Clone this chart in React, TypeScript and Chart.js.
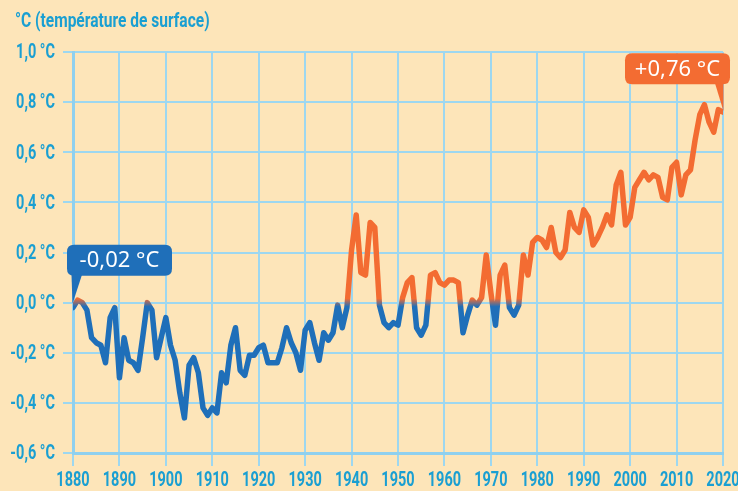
import { useEffect, useRef } from "react";
import { Chart, registerables } from "chart.js";

Chart.register(...registerables);

const START_YEAR = 1880;
const temps1880s = [-0.02, 0.01, 0.0, -0.03, -0.14, -0.16, -0.17, -0.24, -0.06, -0.02];
const temps1890s = [-0.3, -0.14, -0.23, -0.24, -0.27, -0.14, 0.0, -0.03, -0.22, -0.14];
const temps1900s = [-0.06, -0.17, -0.23, -0.36, -0.46, -0.25, -0.22, -0.28, -0.42, -0.45];
const temps1910s = [-0.42, -0.44, -0.28, -0.32, -0.17, -0.1, -0.27, -0.29, -0.21, -0.21];
const temps1920s = [-0.18, -0.17, -0.24, -0.24, -0.24, -0.18, -0.1, -0.16, -0.2, -0.27];
const temps1930s = [-0.11, -0.08, -0.16, -0.23, -0.12, -0.15, -0.12, -0.01, -0.1, -0.02];
const temps1940s = [0.21, 0.35, 0.12, 0.11, 0.32, 0.3, -0.01, -0.08, -0.1, -0.08];
const temps1950s = [-0.09, 0.02, 0.08, 0.1, -0.1, -0.13, -0.09, 0.11, 0.12, 0.08];
const temps1960s = [0.07, 0.09, 0.09, 0.08, -0.12, -0.05, 0.01, -0.01, 0.02, 0.19];
const temps1970s = [0.04, -0.09, 0.11, 0.15, -0.02, -0.05, -0.01, 0.19, 0.11, 0.24];
const temps1980s = [0.26, 0.25, 0.22, 0.3, 0.2, 0.18, 0.21, 0.36, 0.3, 0.28];
const temps1990s = [0.37, 0.34, 0.23, 0.26, 0.3, 0.35, 0.31, 0.47, 0.52, 0.31];
const temps2000s = [0.34, 0.46, 0.49, 0.52, 0.49, 0.51, 0.5, 0.42, 0.41, 0.54];
const temps2010s = [0.56, 0.43, 0.51, 0.53, 0.65, 0.75, 0.79, 0.72, 0.68, 0.77];
const temps2020s = [0.76];

const anomalies = [
  ...temps1880s, ...temps1890s, ...temps1900s, ...temps1910s, ...temps1920s,
  ...temps1930s, ...temps1940s, ...temps1950s, ...temps1960s, ...temps1970s,
  ...temps1980s, ...temps1990s, ...temps2000s, ...temps2010s, ...temps2020s,
];
const years = anomalies.map((_, i) => START_YEAR + i);

const xTickYears = [1880, 1890, 1900, 1910, 1920, 1930, 1940, 1950, 1960, 1970, 1980, 1990, 2000, 2010, 2020];
const yTickValues = [-0.6, -0.4, -0.2, 0, 0.2, 0.4, 0.6, 0.8, 1.0];
const yTickLabels = ["-0,6 °C", "-0,4 °C", "-0,2 °C", "0,0 °C", "0,2 °C", "0,4 °C", "0,6 °C", "0,8 °C", "1,0 °C"];
const axisTitle = "°C (température de surface)";
const startLabel = "-0,02 °C";
const endLabel = "+0,76 °C";

const BG = "#fde5b9";
const BLUE = "#1f6fb9";
const ORANGE = "#f36c32";
const TEXT = "#1a9fd2";
const GRID = "#9dd7f0";
const AXIS = "#8fd0ef";
const LABEL_FONT = "bold 21px Roboto, 'DejaVu Sans', sans-serif";
const SQUEEZE = 0.69;

function roundRect(ctx: CanvasRenderingContext2D, x: number, y: number, w: number, h: number, r: number) {
  ctx.beginPath();
  ctx.moveTo(x + r, y);
  ctx.lineTo(x + w - r, y);
  ctx.quadraticCurveTo(x + w, y, x + w, y + r);
  ctx.lineTo(x + w, y + h - r);
  ctx.quadraticCurveTo(x + w, y + h, x + w - r, y + h);
  ctx.lineTo(x + r, y + h);
  ctx.quadraticCurveTo(x, y + h, x, y + h - r);
  ctx.lineTo(x, y + r);
  ctx.quadraticCurveTo(x, y, x + r, y);
  ctx.closePath();
}

function condensedText(ctx: CanvasRenderingContext2D, text: string, x: number, y: number, align: CanvasTextAlign) {
  ctx.save();
  ctx.translate(x, y);
  ctx.scale(SQUEEZE, 1);
  ctx.textAlign = align;
  ctx.fillText(text, 0, 0);
  ctx.restore();
}

const decorPlugin = {
  id: "decor",
  beforeDraw(chart: any) {
    const ctx = chart.ctx as CanvasRenderingContext2D;
    ctx.save();
    ctx.fillStyle = BG;
    ctx.fillRect(0, 0, chart.width, chart.height);
    ctx.fillStyle = TEXT;
    ctx.font = "bold 21px Roboto, 'DejaVu Sans', sans-serif";
    ctx.textBaseline = "alphabetic";
    ctx.save();
    ctx.translate(15, 27);
    ctx.scale(0.74, 1);
    ctx.textAlign = "left";
    ctx.fillText(axisTitle, 0, 0);
    ctx.restore();

    const xs = chart.scales.x;
    const ys = chart.scales.y;
    ctx.font = LABEL_FONT;
    ctx.textBaseline = "middle";
    yTickValues.forEach((v, i) => {
      condensedText(ctx, yTickLabels[i], 55, ys.getPixelForValue(v) + 1, "right");
    });
    xTickYears.forEach((yr) => {
      condensedText(ctx, String(yr), xs.getPixelForValue(yr), 481, "center");
    });
    ctx.restore();
  },
  afterDatasetsDraw(chart: any) {
    const ctx = chart.ctx as CanvasRenderingContext2D;
    const xs = chart.scales.x;
    const ys = chart.scales.y;
    const n = anomalies.length;
    const p0 = { x: xs.getPixelForValue(years[0]), y: ys.getPixelForValue(anomalies[0]) };
    const p1 = { x: xs.getPixelForValue(years[n - 1]), y: ys.getPixelForValue(anomalies[n - 1]) };
    ctx.save();
    ctx.font = `22px 'Noto Sans', 'DejaVu Sans', sans-serif`;
    ctx.textAlign = "center";
    ctx.textBaseline = "middle";

    const bw = 105, bh = 31;
    const bx = p0.x - 6, by = p0.y - 63;
    ctx.fillStyle = BLUE;
    roundRect(ctx, bx, by, bw, bh, 7);
    ctx.fill();
    ctx.beginPath();
    ctx.moveTo(p0.x - 1.5, by + bh - 1);
    ctx.lineTo(p0.x + 9, by + bh - 1);
    ctx.lineTo(p0.x - 0.5, p0.y - 4);
    ctx.closePath();
    ctx.fill();
    ctx.fillStyle = "#ffffff";
    ctx.fillText(startLabel, bx + bw / 2, by + bh / 2 + 1);

    const ox = p1.x + 7 - bw, oy = p1.y - 59;
    ctx.fillStyle = ORANGE;
    roundRect(ctx, ox, oy, bw, bh, 7);
    ctx.fill();
    ctx.beginPath();
    ctx.moveTo(p1.x - 8, oy + bh - 1);
    ctx.lineTo(p1.x + 0.5, oy + bh - 1);
    ctx.lineTo(p1.x + 0.5, p1.y - 1);
    ctx.closePath();
    ctx.fill();
    ctx.fillStyle = "#ffffff";
    ctx.fillText(endLabel, ox + bw / 2, oy + bh / 2 + 1);
    ctx.restore();
  },
};

export default function App() {
  const canvasRef = useRef<HTMLCanvasElement | null>(null);

  useEffect(() => {
    document.body.style.margin = "0";
    const canvas = canvasRef.current;
    if (!canvas) return;
    const chart = new Chart(canvas, {
      type: "line",
      data: {
        datasets: [
          {
            data: years.map((y, i) => ({ x: y, y: anomalies[i] })),
            borderWidth: 5.5,
            pointRadius: 0,
            tension: 0,
            borderJoinStyle: "round",
            borderCapStyle: "round",
            borderColor: (ctx: any) => {
              const ch = ctx.chart;
              const area = ch.chartArea;
              if (!area) return BLUE;
              const y0 = ch.scales.y.getPixelForValue(0);
              const h = area.bottom - area.top;
              const g = ch.ctx.createLinearGradient(0, area.top, 0, area.bottom);
              const s0 = Math.max(0, Math.min(1, (y0 - 4 - area.top) / h));
              const s1 = Math.max(0, Math.min(1, (y0 + 4 - area.top) / h));
              g.addColorStop(0, ORANGE);
              g.addColorStop(s0, ORANGE);
              g.addColorStop(s1, BLUE);
              g.addColorStop(1, BLUE);
              return g;
            },
          } as any,
        ],
      },
      options: {
        responsive: false,
        animation: false,
        layout: { padding: { left: 0, top: 52, right: 15, bottom: 0 } },
        plugins: { legend: { display: false }, tooltip: { enabled: false } },
        scales: {
          x: {
            type: "linear",
            min: 1880,
            max: 2020,
            afterBuildTicks: (scale: any) => {
              scale.ticks = xTickYears.map((v) => ({ value: v }));
            },
            afterFit: (scale: any) => {
              scale.height = 38;
              scale.paddingLeft = 0;
              scale.paddingRight = 0;
            },
            grid: { color: GRID, lineWidth: 2, tickLength: 13, drawTicks: true },
            border: { display: true, color: AXIS, width: 3 },
            ticks: { display: false },
          },
          y: {
            type: "linear",
            min: -0.6,
            max: 1.0,
            afterBuildTicks: (scale: any) => {
              scale.ticks = yTickValues.map((v) => ({ value: v }));
            },
            afterFit: (scale: any) => {
              scale.width = 73;
              scale.paddingTop = 0;
              scale.paddingBottom = 0;
            },
            grid: { color: GRID, lineWidth: 2, tickLength: 10, drawTicks: true },
            border: { display: true, color: AXIS, width: 3 },
            ticks: { display: false },
          },
        },
      },
      plugins: [decorPlugin],
    } as any);
    return () => chart.destroy();
  }, []);

  return (
    <div style={{ width: 738, height: 491 }}>
      <canvas ref={canvasRef} width={738} height={491} style={{ display: "block" }} />
    </div>
  );
}
